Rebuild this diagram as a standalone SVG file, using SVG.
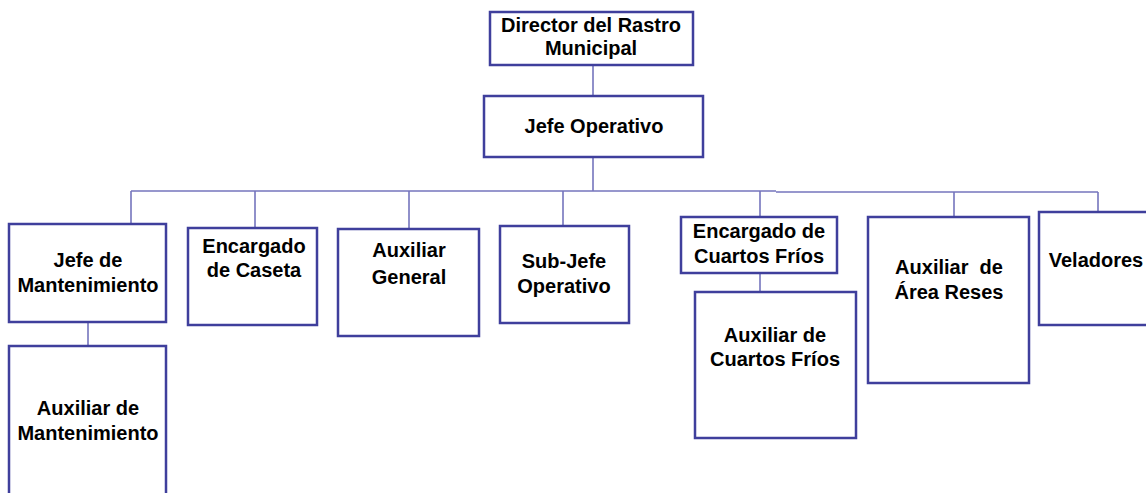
<svg xmlns="http://www.w3.org/2000/svg" width="1146" height="493" viewBox="0 0 1146 493">
<style>
.box{fill:#fff;stroke:#3f3f9c;stroke-width:2.5}
.ln{stroke:#7575bd;stroke-width:1.6;fill:none}
text{font-family:"Liberation Sans",Arial,sans-serif;font-weight:bold;font-size:20px;fill:#000;text-anchor:middle}
</style>
<rect width="1146" height="493" fill="#fff"/>
<g id="connectors">
<path class="ln" d="M593 65V96M593 157V191M131 191H776M776 192H1098M131 191V224M255 191V228M409 191V229M563 191V226M760 191V217M954 192V217M1098 192V212M88 322V346M760 273V292"/>
</g>
<g id="director"><rect class="box" x="490" y="12" width="203" height="53"/><text x="591" y="32">Director del Rastro</text><text x="591" y="55">Municipal</text></g>
<g id="jefe-operativo"><rect class="box" x="484" y="96" width="219" height="61"/><text x="594" y="133">Jefe Operativo</text></g>
<g id="jefe-mantenimiento"><rect class="box" x="9" y="224" width="157" height="98"/><text x="88" y="267">Jefe de</text><text x="88" y="292">Mantenimiento</text></g>
<g id="aux-mantenimiento"><rect class="box" x="9" y="346" width="157" height="160"/><text x="88" y="415">Auxiliar de</text><text x="88" y="440">Mantenimiento</text></g>
<g id="encargado-caseta"><rect class="box" x="188" y="228" width="129" height="97"/><text x="254" y="253">Encargado</text><text x="254" y="277">de Caseta</text></g>
<g id="aux-general"><rect class="box" x="338" y="229" width="141" height="107"/><text x="409" y="257">Auxiliar</text><text x="409" y="284">General</text></g>
<g id="sub-jefe"><rect class="box" x="500" y="226" width="129" height="97"/><text x="564" y="268">Sub-Jefe</text><text x="564" y="293">Operativo</text></g>
<g id="encargado-cuartos"><rect class="box" x="681" y="217" width="156" height="56"/><text x="759" y="238">Encargado de</text><text x="759" y="263">Cuartos Fríos</text></g>
<g id="aux-cuartos"><rect class="box" x="695" y="292" width="161" height="146"/><text x="775" y="342">Auxiliar de</text><text x="775" y="366">Cuartos Fríos</text></g>
<g id="aux-reses"><rect class="box" x="868" y="217" width="161" height="166"/><text x="949" y="274" xml:space="preserve">Auxiliar  de</text><text x="949" y="299">Área Reses</text></g>
<g id="veladores"><rect class="box" x="1039" y="212" width="115" height="113"/><text x="1096" y="267">Veladores</text></g>
</svg>
